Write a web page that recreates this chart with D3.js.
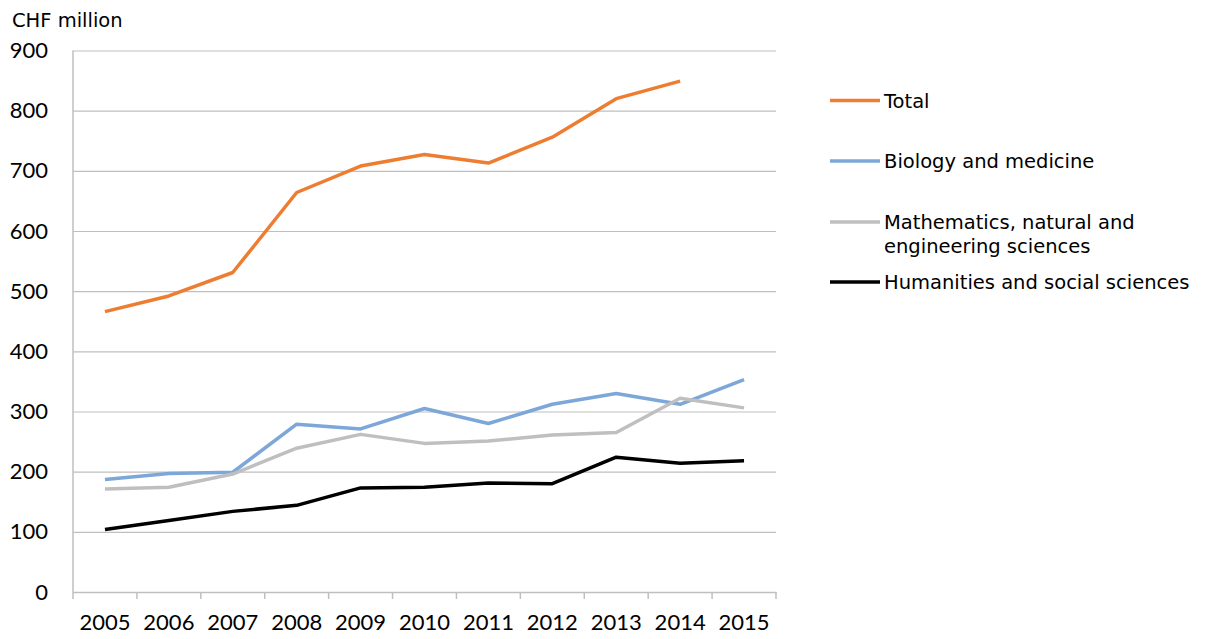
<!DOCTYPE html>
<html>
<head>
<meta charset="utf-8">
<script src="https://cdn.jsdelivr.net/npm/d3@7"></script>
<style>
  body { margin: 0; background: #fff; }
  svg { display: block; }
</style>
</head>
<body>
<svg id="chart" width="1205" height="639"></svg>
<script>
'use strict';

// data (CHF million)
const years = ['2005', '2006', '2007', '2008', '2009', '2010', '2011', '2012', '2013', '2014', '2015'];
const total = [466, 492, 531, 664, 708, 727, 713, 756, 820, 849, null];
const biology = [187, 197, 199, 279, 271, 305, 280, 312, 330, 312, 353];
const maths = [171, 174, 196, 239, 262, 247, 251, 261, 265, 322, 306];
const humanities = [104, 119, 134, 144, 173, 174, 181, 180, 224, 214, 218];
const yTicks = [0, 100, 200, 300, 400, 500, 600, 700, 800, 900];

const series = [
  { name: ['Total'], values: total, color: '#ED7D31' },
  { name: ['Biology and medicine'], values: biology, color: '#7DA7D9' },
  { name: ['Mathematics, natural and', 'engineering sciences'], values: maths, color: '#BFBFBF' },
  { name: ['Humanities and social sciences'], values: humanities, color: '#000000' },
];

const svg = d3.select('#chart');
const margin = { top: 50.5, left: 73, right: 429, bottom: 47 };
const width = 1205 - margin.left - margin.right;
const height = 639 - margin.top - margin.bottom;

const g = svg.append('g')
  .attr('transform', 'translate(' + margin.left + ',' + margin.top + ')');

const xScale = d3.scaleBand().domain(years).range([0, width]);
const yScale = d3.scaleLinear().domain([0, 900]).range([height, 0]);

// gridlines + y labels
const yAxis = d3.axisLeft(yScale).tickValues(yTicks).tickSize(-width).tickPadding(10);
g.append('g')
  .attr('class', 'y axis')
  .call(yAxis)
  .call((g) => {
    g.select('.domain').remove();
    g.selectAll('line').attr('stroke', '#BFBFBF').attr('stroke-width', 1.2);
    g.selectAll('text')
      .attr('x', -25)
      .attr('fill', '#000')
      .style('font-family', 'Lato, "Liberation Sans", sans-serif')
      .style('font-size', '22px');
  });

// vertical axis line
g.append('line')
  .attr('x1', 0).attr('x2', 0)
  .attr('y1', 0).attr('y2', height)
  .attr('stroke', '#BFBFBF').attr('stroke-width', 1.5);

// x axis: ticks between categories
const xAxis = d3.axisBottom(xScale).tickSize(0).tickPadding(22);
const xg = g.append('g')
  .attr('class', 'x axis')
  .attr('transform', 'translate(0,' + height + ')')
  .call(xAxis)
  .call((g) => {
    g.select('.domain').attr('stroke', '#BFBFBF').attr('stroke-width', 1.5);
    g.selectAll('text')
      .attr('fill', '#000')
      .style('font-family', 'Lato, "Liberation Sans", sans-serif')
      .style('font-size', '22px');
  });

xg.selectAll('.sep')
  .data(years.concat(['end']))
  .enter()
  .append('line')
  .attr('class', 'sep')
  .attr('x1', (d, i) => i * xScale.step())
  .attr('x2', (d, i) => i * xScale.step())
  .attr('y1', 0)
  .attr('y2', 7)
  .attr('stroke', '#BFBFBF')
  .attr('stroke-width', 1.5);

// unit label
svg.append('text')
  .attr('x', 12)
  .attr('y', 27)
  .style('font-family', '"DejaVu Sans", Verdana, sans-serif')
  .style('font-size', '19.5px')
  .attr('fill', '#000')
  .text('CHF million');

// lines
const line = d3.line()
  .defined((d) => d !== null)
  .x((d, i) => xScale(years[i]) + xScale.bandwidth() / 2)
  .y((d) => yScale(d));

g.selectAll('.series')
  .data(series)
  .enter()
  .append('path')
  .attr('class', 'series')
  .attr('fill', 'none')
  .attr('stroke', (d) => d.color)
  .attr('stroke-width', 3.5)
  .attr('stroke-linejoin', 'round')
  .attr('d', (d) => line(d.values));

// legend
const legendY = [100.5, 161, 222, 282];
const legend = svg.selectAll('.legend')
  .data(series)
  .enter()
  .append('g')
  .attr('class', 'legend')
  .attr('transform', (d, i) => 'translate(830,' + legendY[i] + ')');

legend.append('line')
  .attr('x1', 0).attr('x2', 50)
  .attr('y1', 0).attr('y2', 0)
  .attr('stroke', (d) => d.color)
  .attr('stroke-width', 3.5);

legend.append('text')
  .attr('x', 54)
  .attr('y', 7)
  .style('font-family', '"DejaVu Sans", Verdana, sans-serif')
  .style('font-size', '19.5px')
  .attr('fill', '#000')
  .selectAll('tspan')
  .data((d) => d.name)
  .enter()
  .append('tspan')
  .attr('x', 54)
  .attr('dy', (d, i) => (i === 0 ? 0 : 24))
  .text((d) => d);
</script>
</body>
</html>
